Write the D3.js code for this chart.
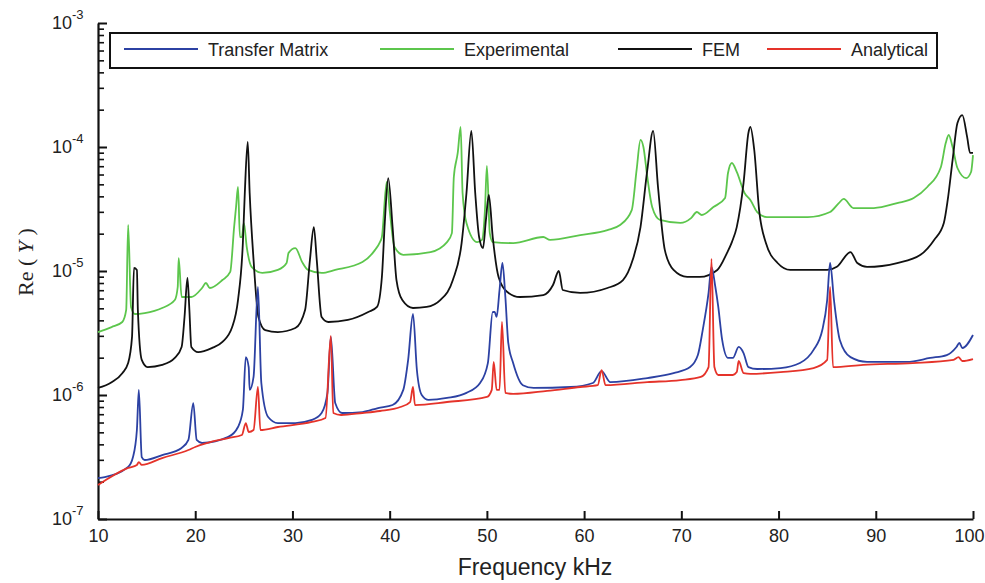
<!DOCTYPE html>
<html>
<head>
<meta charset="utf-8">
<script src="https://cdn.jsdelivr.net/npm/d3@7"></script>
<style>
  body { margin: 0; background: #fff; }
  text { font-family: "Liberation Sans", Arial, sans-serif; fill: #222; }
  .axis path, .axis line { stroke: #111; }
</style>
</head>
<body>
<div id="chart"></div>
<script>
//series data, [frequency kHz, Re(Y)]
var transferMatrix = [
  [10.0, 2.14e-7], [10.7, 2.18e-7], [13.1, 2.63e-7], [13.6, 3.16e-7], [14.0, 5.22e-7], [14.2, 1.10e-6],
  [14.5, 3.16e-7], [14.8, 2.99e-7], [16.6, 3.28e-7], [18.6, 3.74e-7], [19.3, 4.34e-7], [19.8, 8.61e-7],
  [20.15, 4.34e-7], [20.7, 4.10e-7], [23.4, 4.59e-7], [24.4, 5.52e-7], [24.9, 7.57e-7], [25.2, 2.02e-6],
  [25.5, 1.68e-6], [25.6, 1.10e-6], [26.0, 1.40e-6], [26.45, 7.43e-6], [26.8, 1.25e-6], [27.5, 6.65e-7],
  [28.5, 5.94e-7], [30.3, 5.94e-7], [32.0, 6.29e-7], [33.0, 7.16e-7], [33.6, 1.04e-6], [33.95, 2.94e-6],
  [34.4, 8.61e-7], [35.1, 7.16e-7], [37.2, 7.29e-7], [38.8, 7.85e-7], [40.3, 8.30e-7], [41.4, 1.10e-6],
  [41.9, 1.92e-6], [42.4, 4.50e-6], [42.8, 1.59e-6], [43.3, 1.00e-6], [44.0, 9.12e-7], [45.9, 9.46e-7],
  [47.9, 1.04e-6], [49.3, 1.25e-6], [50.1, 1.81e-6], [50.6, 4.67e-6], [50.8, 4.67e-6], [51.0, 4.26e-6],
  [51.3, 7.03e-6], [51.6, 1.16e-5], [51.9, 6.17e-6], [52.2, 2.63e-6], [52.7, 1.81e-6], [53.7, 1.20e-6],
  [54.8, 1.14e-6], [58.6, 1.16e-6], [60.9, 1.25e-6], [61.8, 1.56e-6], [62.7, 1.27e-6], [66.5, 1.37e-6],
  [69.2, 1.50e-6], [70.9, 1.68e-6], [71.7, 2.10e-6], [72.2, 3.34e-6], [72.8, 6.65e-6], [73.1, 1.08e-5],
  [73.5, 7.43e-6], [73.8, 5.13e-6], [74.2, 2.78e-6], [74.8, 1.99e-6], [75.3, 1.99e-6], [75.9, 2.44e-6],
  [76.4, 2.18e-6], [76.9, 1.68e-6], [77.8, 1.62e-6], [80.2, 1.65e-6], [82.2, 1.81e-6], [83.6, 2.31e-6],
  [84.5, 3.34e-6], [85.0, 5.83e-6], [85.3, 1.16e-5], [85.7, 5.83e-6], [86.3, 2.78e-6], [87.4, 2.02e-6],
  [89.1, 1.85e-6], [93.2, 1.85e-6], [95.6, 1.99e-6], [97.3, 2.10e-6], [98.3, 2.44e-6], [98.6, 2.63e-6],
  [98.9, 2.39e-6], [100.0, 3.05e-6]
];
var experimental = [
  [10.0, 3.22e-6], [11.4, 3.53e-6], [12.5, 3.88e-6], [12.9, 4.85e-6], [13.1, 2.35e-5], [13.4, 5.13e-6],
  [13.8, 4.50e-6], [14.8, 4.58e-6], [16.6, 5.03e-6], [17.9, 5.83e-6], [18.2, 7.43e-6], [18.3, 1.27e-5],
  [18.6, 6.17e-6], [19.6, 6.17e-6], [20.7, 7.29e-6], [21.1, 8.00e-6], [21.5, 7.29e-6], [22.8, 8.46e-6],
  [23.6, 9.82e-6], [24.0, 2.26e-5], [24.2, 3.28e-5], [24.4, 4.76e-5], [24.6, 1.88e-5], [24.8, 1.88e-5],
  [25.0, 2.44e-5], [25.3, 1.56e-5], [25.8, 1.08e-5], [26.9, 9.64e-6], [28.5, 1.02e-5], [29.4, 1.16e-5],
  [29.6, 1.40e-5], [30.3, 1.53e-5], [31.0, 1.18e-5], [31.6, 1.02e-5], [33.0, 9.64e-6], [34.4, 1.02e-5],
  [37.2, 1.18e-5], [38.5, 1.48e-5], [39.0, 1.71e-5], [39.2, 1.88e-5], [39.7, 5.22e-5], [40.0, 3.10e-5],
  [40.5, 1.56e-5], [41.4, 1.35e-5], [44.2, 1.42e-5], [45.9, 1.71e-5], [46.4, 2.02e-5], [46.6, 5.73e-5],
  [47.0, 8.95e-5], [47.3, 1.45e-4], [47.5, 4.26e-5], [47.9, 2.44e-5], [49.0, 1.71e-5], [49.5, 1.78e-5],
  [49.8, 3.10e-5], [50.0, 7.03e-5], [50.3, 2.02e-5], [50.6, 1.71e-5], [52.7, 1.68e-5], [55.8, 1.88e-5],
  [56.5, 1.78e-5], [59.6, 1.95e-5], [62.4, 2.14e-5], [63.7, 2.35e-5], [64.9, 3.10e-5], [65.4, 6.53e-5],
  [65.8, 1.14e-4], [66.1, 1.00e-4], [66.5, 5.73e-5], [67.0, 3.28e-5], [67.8, 2.58e-5], [69.9, 2.44e-5],
  [71.0, 2.67e-5], [71.6, 2.99e-5], [72.1, 2.83e-5], [73.3, 3.28e-5], [74.5, 3.88e-5], [74.8, 6.17e-5],
  [75.2, 7.43e-5], [75.7, 6.29e-5], [76.5, 4.26e-5], [77.1, 3.74e-5], [77.8, 2.99e-5], [78.8, 2.72e-5],
  [83.0, 2.72e-5], [85.3, 2.99e-5], [86.2, 3.53e-5], [86.7, 3.81e-5], [87.7, 3.22e-5], [89.8, 3.22e-5],
  [92.2, 3.53e-5], [93.9, 3.88e-5], [95.3, 4.76e-5], [96.7, 6.90e-5], [97.2, 1.08e-4], [97.5, 1.25e-4],
  [97.9, 1.00e-4], [98.4, 6.77e-5], [99.3, 5.62e-5], [99.8, 6.29e-5], [100.0, 8.61e-5]
];
var fem = [
  [10.0, 1.14e-6], [11.4, 1.27e-6], [12.5, 1.50e-6], [13.1, 1.81e-6], [13.5, 2.94e-6], [13.7, 1.06e-5],
  [14.0, 1.02e-5], [14.1, 4.85e-6], [14.5, 1.92e-6], [15.1, 1.68e-6], [16.6, 1.75e-6], [17.9, 1.99e-6],
  [18.6, 2.44e-6], [18.9, 4.26e-6], [19.2, 8.78e-6], [19.4, 4.85e-6], [19.6, 2.44e-6], [20.3, 2.22e-6],
  [21.7, 2.39e-6], [22.8, 2.68e-6], [23.8, 3.53e-6], [24.4, 5.83e-6], [24.9, 1.68e-5], [25.1, 4.26e-5],
  [25.4, 1.10e-4], [25.6, 4.26e-5], [26.0, 1.23e-5], [26.5, 4.26e-6], [27.2, 3.34e-6], [28.5, 3.22e-6],
  [30.3, 3.47e-6], [31.3, 4.85e-6], [31.8, 1.23e-5], [32.2, 2.26e-5], [32.5, 1.23e-5], [33.0, 4.26e-6],
  [33.7, 3.88e-6], [35.7, 4.03e-6], [37.8, 4.67e-6], [38.7, 5.13e-6], [39.2, 8.95e-6], [39.5, 2.48e-5],
  [39.85, 5.62e-5], [40.3, 2.26e-5], [40.7, 8.46e-6], [41.3, 5.83e-6], [42.4, 5.03e-6], [43.8, 5.13e-6],
  [45.2, 5.83e-6], [46.5, 8.46e-6], [47.4, 1.68e-5], [47.9, 4.26e-5], [48.4, 1.35e-4], [48.8, 4.26e-5],
  [49.2, 1.88e-5], [49.6, 1.53e-5], [49.9, 2.58e-5], [50.2, 4.10e-5], [50.6, 1.88e-5], [51.2, 8.95e-6],
  [52.1, 6.77e-6], [53.4, 6.17e-6], [55.8, 6.40e-6], [56.8, 7.71e-6], [57.4, 1.00e-5], [57.8, 7.03e-6],
  [59.6, 6.65e-6], [62.4, 7.29e-6], [64.0, 8.46e-6], [65.0, 1.23e-5], [65.8, 2.26e-5], [66.5, 6.53e-5],
  [67.1, 1.35e-4], [67.6, 4.76e-5], [68.3, 1.48e-5], [69.2, 1.02e-5], [70.6, 8.95e-6], [71.9, 8.95e-6],
  [73.7, 1.02e-5], [74.7, 1.40e-5], [75.2, 1.71e-5], [75.7, 2.26e-5], [76.4, 5.13e-5], [76.9, 1.30e-4],
  [77.1, 1.45e-4], [77.5, 9.46e-5], [78.0, 3.10e-5], [78.7, 1.68e-5], [79.9, 1.16e-5], [81.2, 1.02e-5],
  [85.0, 1.02e-5], [86.0, 1.08e-5], [87.4, 1.42e-5], [88.1, 1.16e-5], [89.1, 1.08e-5], [92.2, 1.16e-5],
  [94.6, 1.35e-5], [96.0, 1.78e-5], [97.0, 2.44e-5], [97.4, 3.74e-5], [97.9, 7.85e-5], [98.4, 1.56e-4],
  [98.9, 1.81e-4], [99.4, 1.20e-4], [99.7, 8.95e-5], [100.0, 8.95e-5]
];
var analytical = [
  [10.0, 1.88e-7], [13.1, 2.58e-7], [14.0, 2.73e-7], [14.2, 2.88e-7], [14.5, 2.73e-7], [16.6, 3.10e-7],
  [19.3, 3.60e-7], [20.0, 3.81e-7], [23.4, 4.50e-7], [24.8, 4.76e-7], [25.2, 5.94e-7], [25.5, 5.03e-7],
  [26.0, 5.22e-7], [26.45, 1.16e-6], [26.7, 5.22e-7], [28.5, 5.52e-7], [32.0, 6.06e-7], [33.4, 6.53e-7],
  [33.95, 2.99e-6], [34.2, 7.16e-7], [35.0, 6.90e-7], [37.2, 7.16e-7], [39.0, 7.43e-7], [41.1, 8.00e-7],
  [42.1, 8.78e-7], [42.4, 1.16e-6], [42.6, 8.30e-7], [45.9, 8.78e-7], [50.0, 9.64e-7], [50.5, 1.10e-6],
  [50.7, 1.85e-6], [51.0, 1.10e-6], [51.3, 1.10e-6], [51.55, 3.88e-6], [51.9, 1.04e-6], [52.7, 1.02e-6],
  [56.2, 1.08e-6], [59.6, 1.16e-6], [61.4, 1.20e-6], [61.8, 1.59e-6], [62.2, 1.20e-6], [66.5, 1.27e-6],
  [69.9, 1.32e-6], [72.0, 1.40e-6], [72.8, 1.68e-6], [73.1, 1.25e-5], [73.4, 1.68e-6], [73.8, 1.45e-6],
  [75.3, 1.45e-6], [75.7, 1.53e-6], [75.9, 1.88e-6], [76.4, 1.50e-6], [77.1, 1.48e-6], [80.2, 1.53e-6],
  [83.6, 1.65e-6], [85.0, 1.92e-6], [85.3, 7.43e-6], [85.6, 1.68e-6], [88.7, 1.75e-6], [93.8, 1.81e-6],
  [98.0, 1.92e-6], [98.5, 2.02e-6], [98.9, 1.88e-6], [100.0, 1.95e-6]
];

var seriesNames = ["Transfer Matrix", "Experimental", "FEM", "Analytical"];
var seriesColors = ["#2c41a3", "#5cc64c", "#111111", "#e5332a"];
var seriesData = [transferMatrix, experimental, fem, analytical];
var xTicks = [10, 20, 30, 40, 50, 60, 70, 80, 90, 100];
var yExponents = [-7, -6, -5, -4, -3];

var width = 985, height = 583;
var plotLeft = 98, plotRight = 973, plotTop = 23, plotBottom = 519;

var svg = d3.select("#chart").append("svg").attr("width", width).attr("height", height);

//scales
var x = d3.scaleLinear().domain([10, 100]).range([plotLeft, plotRight]);
var y = d3.scaleLog().domain([1e-7, 1e-3]).range([plotBottom, plotTop]);

//minor ticks on the log axis (2..9 of each decade)
var minor = [];
yExponents.slice(0, 4).forEach(function(e) {
    for (var k = 2; k <= 9; k++) minor.push(k * Math.pow(10, e));
});

//x axis, ticks pointing inside
var xAxis = d3.axisBottom(x).tickValues(xTicks).tickSizeInner(-8).tickSizeOuter(0).tickPadding(10);
var gx = svg.append("g")
    .attr("class", "axis")
    .attr("transform", "translate(0," + plotBottom + ")")
    .call(xAxis);
gx.select(".domain").attr("stroke-width", 2.2);
gx.selectAll(".tick line").attr("stroke-width", 2);
gx.selectAll(".tick text")
    .style("font-size", "18px")
    .attr("fill", "#222")
    .attr("dx", function(d) { return d == 100 ? -4 : 0; });

//y axis
var yAxis = d3.axisLeft(y).tickValues(yExponents.map(function(e) { return Math.pow(10, e); }))
    .tickSizeInner(-9).tickSizeOuter(0).tickFormat("");
var gy = svg.append("g")
    .attr("class", "axis")
    .attr("transform", "translate(" + plotLeft + ",0)")
    .call(yAxis);
gy.select(".domain").attr("stroke-width", 2.2);
gy.selectAll(".tick line").attr("stroke-width", 2);

var yMinor = d3.axisLeft(y).tickValues(minor).tickSizeInner(-6).tickSizeOuter(0).tickFormat("");
var gym = svg.append("g")
    .attr("class", "axis")
    .attr("transform", "translate(" + plotLeft + ",0)")
    .call(yMinor);
gym.select(".domain").remove();
gym.selectAll(".tick line").attr("stroke-width", 1.6);

//power of ten labels
yExponents.forEach(function(e) {
    var py = y(Math.pow(10, e));
    svg.append("text")
        .attr("x", 72).attr("y", py + 6)
        .attr("text-anchor", "end")
        .style("font-size", "18px")
        .text("10");
    svg.append("text")
        .attr("x", 72).attr("y", py - 4)
        .style("font-size", "13px")
        .text(e);
});

//axis titles
svg.append("text")
    .attr("x", 535).attr("y", 575)
    .attr("text-anchor", "middle")
    .style("font-size", "23px")
    .text("Frequency kHz");

var yt = svg.append("text")
    .attr("transform", "translate(33,262) rotate(-90)")
    .attr("text-anchor", "middle")
    .style("font-family", "'Liberation Serif', 'Times New Roman', serif")
    .style("font-size", "22px");
yt.append("tspan").text("Re ( ");
yt.append("tspan").style("font-style", "italic").text("Y");
yt.append("tspan").text(" )");

//curves (monotone keeps the resonance peaks smooth without overshoot)
var line = d3.line()
    .curve(d3.curveMonotoneX)
    .x(function(d) { return x(d[0]); })
    .y(function(d) { return y(d[1]); });

var drawOrder = [1, 2, 0, 3];
drawOrder.forEach(function(i) {
    svg.append("path")
        .datum(seriesData[i])
        .attr("fill", "none")
        .attr("stroke", seriesColors[i])
        .attr("stroke-width", 1.8)
        .attr("stroke-linejoin", "round")
        .attr("d", line);
});

//legend
svg.append("rect")
    .attr("x", 110).attr("y", 33)
    .attr("width", 827).attr("height", 35)
    .attr("fill", "#fff")
    .attr("stroke", "#111")
    .attr("stroke-width", 2);
var legendX = [124, 380, 618, 767];
seriesNames.forEach(function(name, i) {
    svg.append("line")
        .attr("x1", legendX[i]).attr("x2", legendX[i] + 74)
        .attr("y1", 49).attr("y2", 49)
        .attr("stroke", seriesColors[i])
        .attr("stroke-width", 1.8);
    svg.append("text")
        .attr("x", legendX[i] + 84).attr("y", 56)
        .style("font-size", "18px")
        .text(name);
});
</script>
</body>
</html>
